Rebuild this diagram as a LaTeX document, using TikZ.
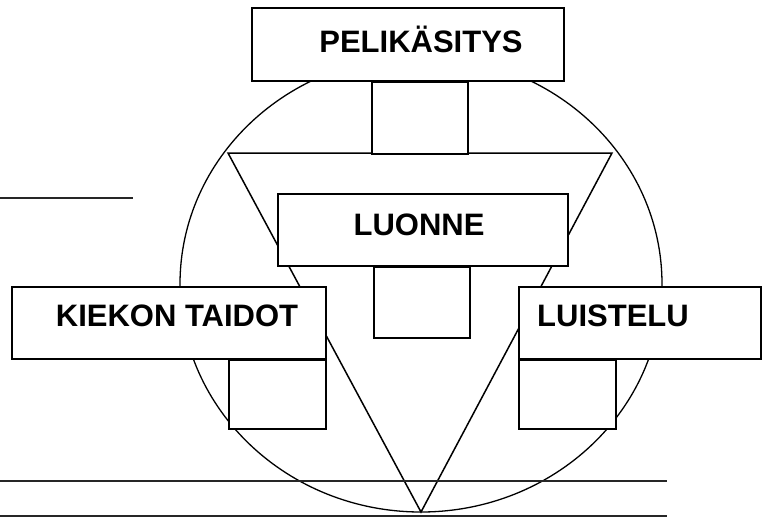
\documentclass[tikz,border=0pt]{standalone}
\usepackage{fontspec}
\setmainfont{Liberation Sans}
\usepackage{tikz}
\usetikzlibrary{calc}

\begin{document}
\begin{tikzpicture}[x=1pt,y=-1pt,
    box/.style={draw,line width=1.5pt,fill=white,inner sep=0pt},
    stem/.style={draw,line width=1.5pt,fill=white,inner sep=0pt,anchor=north},
    lbl/.style={font=\fontsize{31}{36}\selectfont\bfseries,inner sep=0pt},
    rule/.style={line width=1.3pt,black!85}]
            \useasboundingbox (0,0) rectangle (765,517);
            \coordinate (TL) at (228,153);
            \coordinate (TR) at (612,153);
            \coordinate (V) at (421,512);
            \draw[line width=1.3pt] (421,284) ellipse [x radius=241pt, y radius=228pt];
            \draw[line width=1.5pt] (TL) -- (TR) -- (V) -- cycle;
            \draw[rule] (0,198) -- (133,198);
            \draw[rule] (0,481) -- (667,481);
            \draw[rule] (0,516) -- (667,516);
            \node[stem,minimum width=96pt,minimum height=72pt] (Speli) at (420,81) {};
            \node[stem,minimum width=96pt,minimum height=71pt] (Sluonne) at (422,266) {};
            \node[stem,minimum width=97pt,minimum height=69pt] (Skiekko) at (277.5,359) {};
            \node[stem,minimum width=97pt,minimum height=69pt] (Sluistelu) at (567.5,359) {};
            \node[box,minimum width=312pt,minimum height=73pt] (peli) at (408,44.5) {};
            \node[box,minimum width=290pt,minimum height=72pt] (luonne) at (423,230) {};
            \node[box,minimum width=314pt,minimum height=72pt] (kiekko) at (169,323) {};
            \node[box,minimum width=242pt,minimum height=72pt] (luistelu) at (640,323) {};
            \node[lbl] (Tpeli) at (421,39) {PELIKÄSITYS};
            \node[lbl] (Tluonne) at (419,225) {LUONNE};
            \node[lbl] (Tkiekko) at (177,316) {KIEKON TAIDOT};
            \node[lbl] (Tluistelu) at (613,316) {LUISTELU};
        \end{tikzpicture}
\end{document}
